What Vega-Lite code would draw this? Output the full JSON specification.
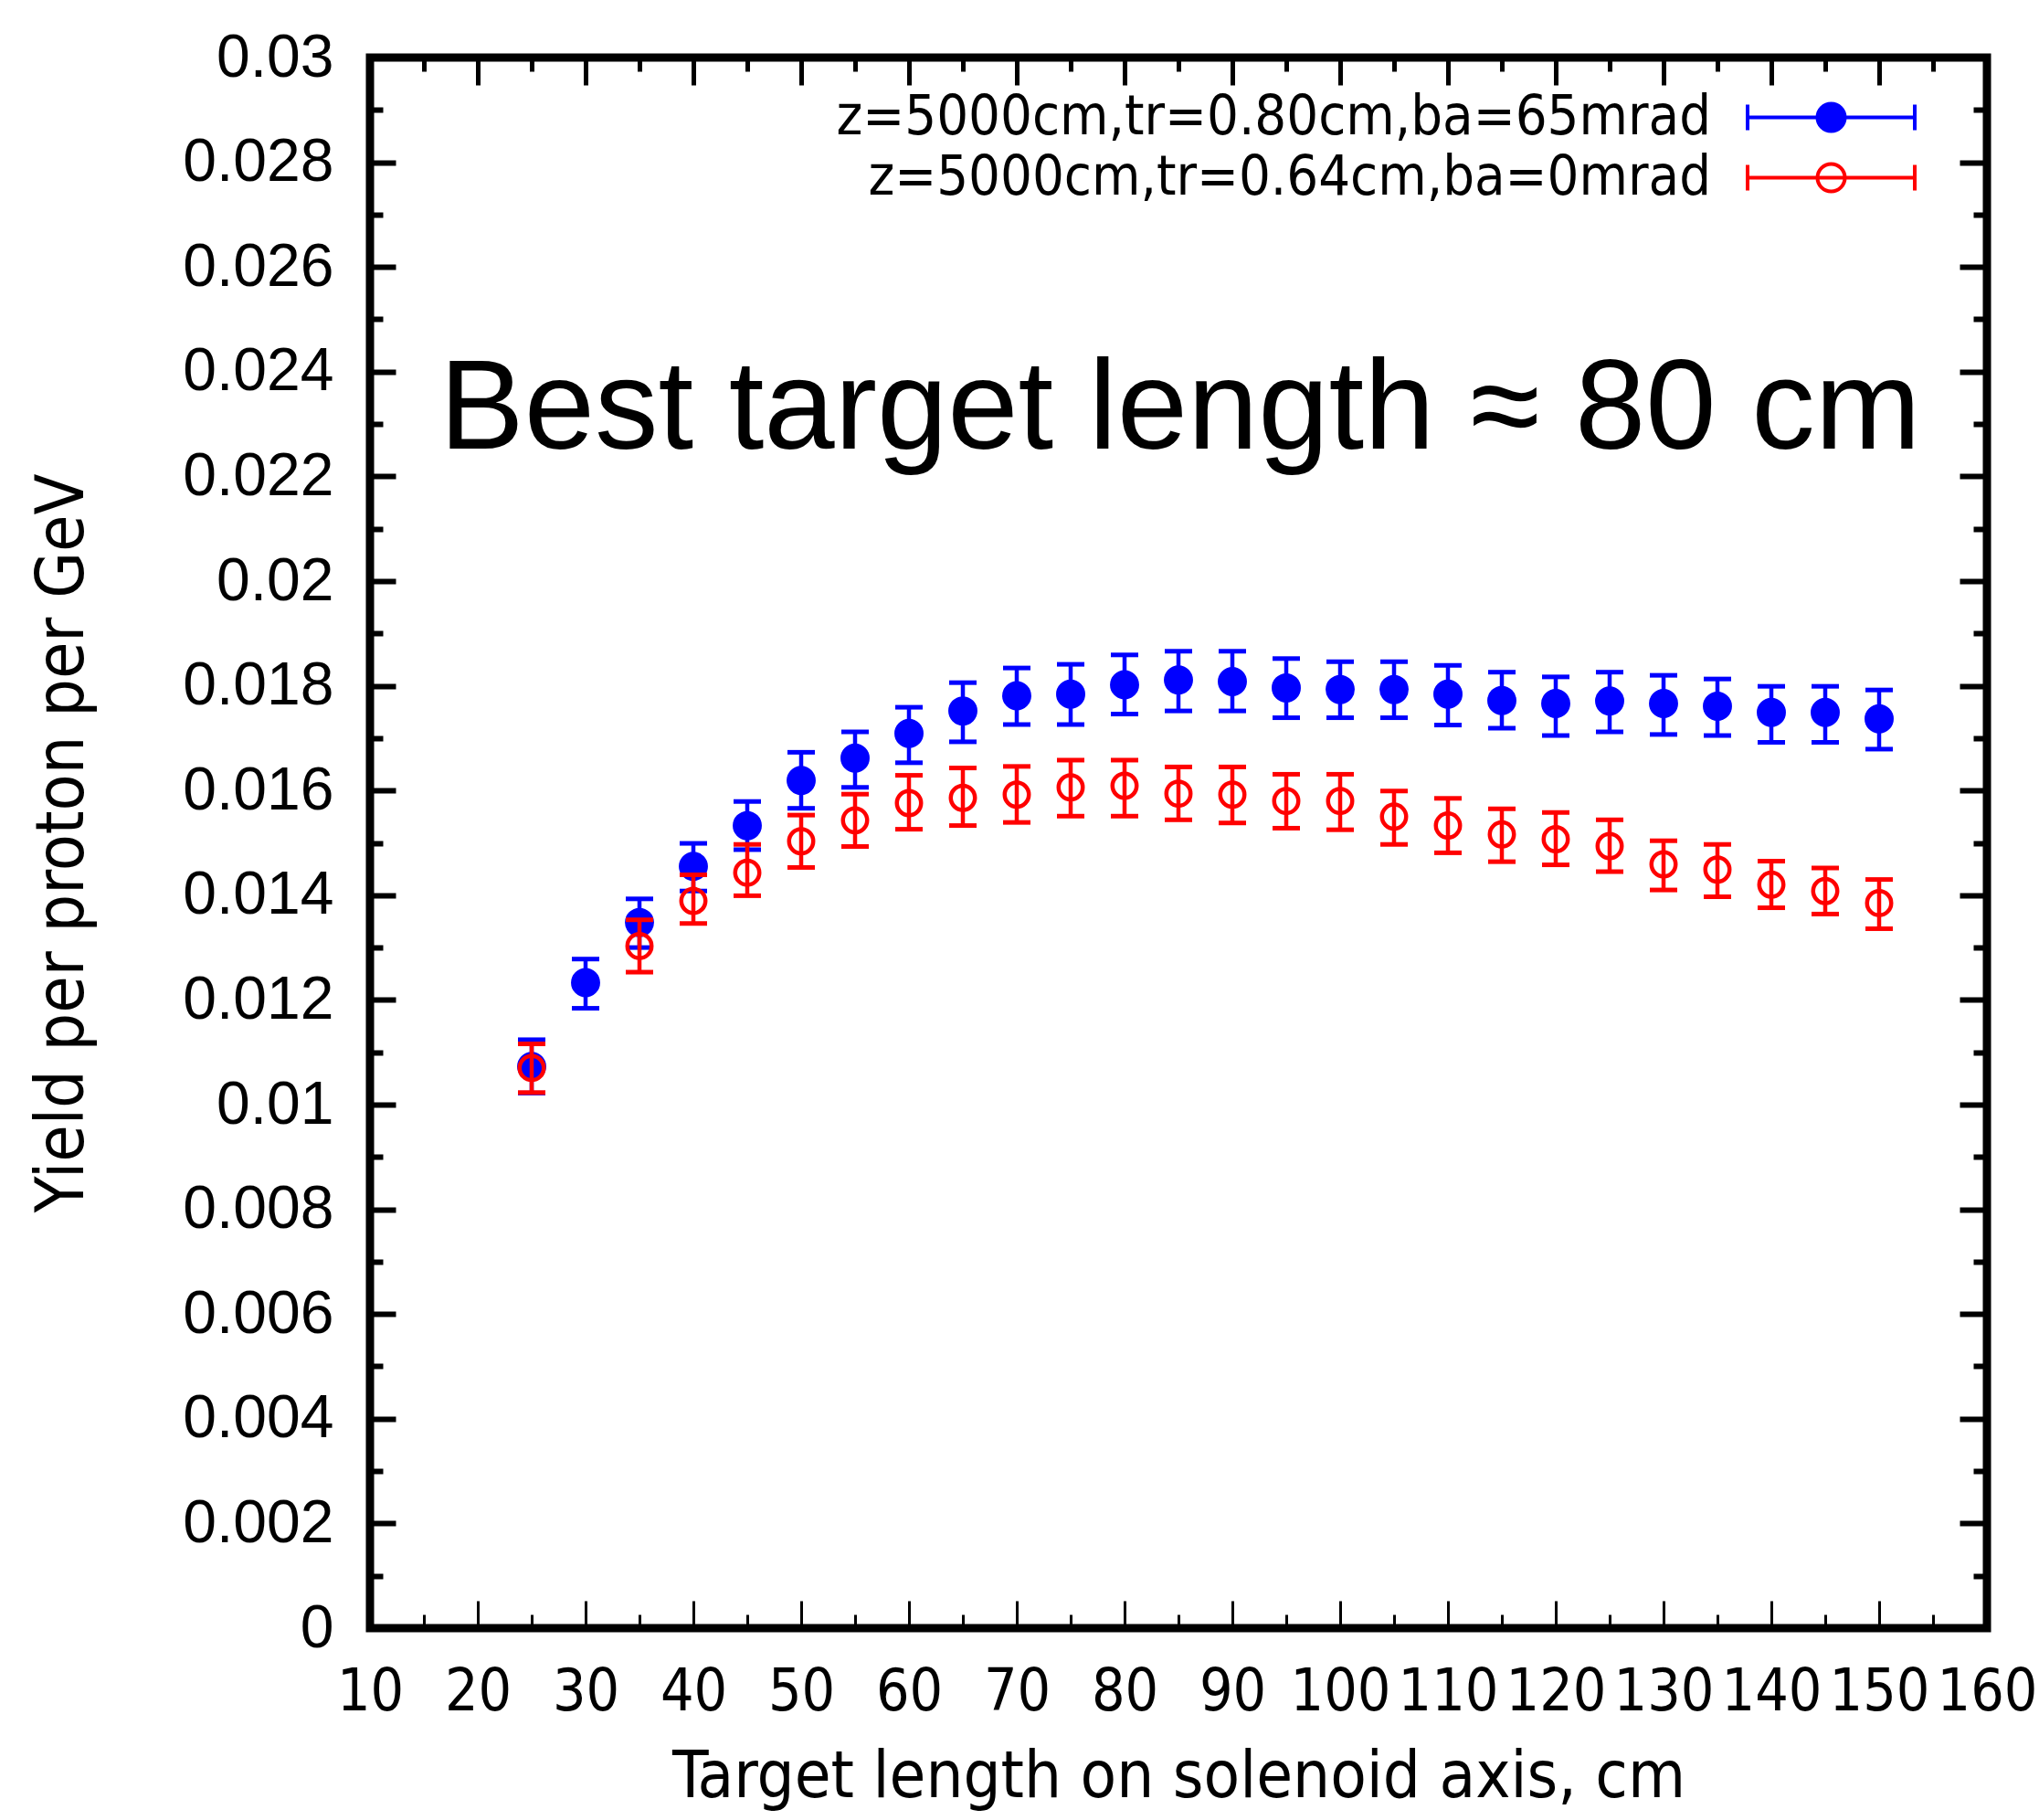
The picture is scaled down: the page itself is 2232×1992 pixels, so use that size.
{
  "$schema": "https://vega.github.io/schema/vega-lite/v6.json",
  "width": 1770,
  "height": 1719,
  "autosize": {"type": "none"},
  "padding": {"left": 405, "top": 63, "right": 57, "bottom": 210},
  "background": "white",
  "config": {
    "view": {"stroke": "black", "strokeWidth": 9},
    "axis": {"domain": false, "grid": false, "tickColor": "black", "labelColor": "black", "titleColor": "black"}
  },
  "datasets": {
    "pts": [
      {"series": "z=5000cm,tr=0.80cm,ba=65mrad", "x": 25, "y": 0.01073, "lo": 0.01022, "hi": 0.01124},
      {"series": "z=5000cm,tr=0.80cm,ba=65mrad", "x": 30, "y": 0.01233, "lo": 0.01184, "hi": 0.01278},
      {"series": "z=5000cm,tr=0.80cm,ba=65mrad", "x": 35, "y": 0.01348, "lo": 0.01300, "hi": 0.01393},
      {"series": "z=5000cm,tr=0.80cm,ba=65mrad", "x": 40, "y": 0.01455, "lo": 0.01408, "hi": 0.01499},
      {"series": "z=5000cm,tr=0.80cm,ba=65mrad", "x": 45, "y": 0.01533, "lo": 0.01487, "hi": 0.01579},
      {"series": "z=5000cm,tr=0.80cm,ba=65mrad", "x": 50, "y": 0.01619, "lo": 0.01566, "hi": 0.01673},
      {"series": "z=5000cm,tr=0.80cm,ba=65mrad", "x": 55, "y": 0.01662, "lo": 0.01606, "hi": 0.01712},
      {"series": "z=5000cm,tr=0.80cm,ba=65mrad", "x": 60, "y": 0.01709, "lo": 0.01653, "hi": 0.01759},
      {"series": "z=5000cm,tr=0.80cm,ba=65mrad", "x": 65, "y": 0.01752, "lo": 0.01693, "hi": 0.01806},
      {"series": "z=5000cm,tr=0.80cm,ba=65mrad", "x": 70, "y": 0.01781, "lo": 0.01726, "hi": 0.01834},
      {"series": "z=5000cm,tr=0.80cm,ba=65mrad", "x": 75, "y": 0.01784, "lo": 0.01726, "hi": 0.01841},
      {"series": "z=5000cm,tr=0.80cm,ba=65mrad", "x": 80, "y": 0.01802, "lo": 0.01746, "hi": 0.01859},
      {"series": "z=5000cm,tr=0.80cm,ba=65mrad", "x": 85, "y": 0.01811, "lo": 0.01752, "hi": 0.01866},
      {"series": "z=5000cm,tr=0.80cm,ba=65mrad", "x": 90, "y": 0.01808, "lo": 0.01752, "hi": 0.01866},
      {"series": "z=5000cm,tr=0.80cm,ba=65mrad", "x": 95, "y": 0.01796, "lo": 0.01739, "hi": 0.01852},
      {"series": "z=5000cm,tr=0.80cm,ba=65mrad", "x": 100, "y": 0.01793, "lo": 0.01739, "hi": 0.01846},
      {"series": "z=5000cm,tr=0.80cm,ba=65mrad", "x": 105, "y": 0.01793, "lo": 0.01739, "hi": 0.01846},
      {"series": "z=5000cm,tr=0.80cm,ba=65mrad", "x": 110, "y": 0.01784, "lo": 0.01725, "hi": 0.01839},
      {"series": "z=5000cm,tr=0.80cm,ba=65mrad", "x": 115, "y": 0.01772, "lo": 0.01719, "hi": 0.01826},
      {"series": "z=5000cm,tr=0.80cm,ba=65mrad", "x": 120, "y": 0.01766, "lo": 0.01705, "hi": 0.01817},
      {"series": "z=5000cm,tr=0.80cm,ba=65mrad", "x": 125, "y": 0.01771, "lo": 0.01712, "hi": 0.01826},
      {"series": "z=5000cm,tr=0.80cm,ba=65mrad", "x": 130, "y": 0.01766, "lo": 0.01707, "hi": 0.01820},
      {"series": "z=5000cm,tr=0.80cm,ba=65mrad", "x": 135, "y": 0.01761, "lo": 0.01705, "hi": 0.01813},
      {"series": "z=5000cm,tr=0.80cm,ba=65mrad", "x": 140, "y": 0.01749, "lo": 0.01692, "hi": 0.01799},
      {"series": "z=5000cm,tr=0.80cm,ba=65mrad", "x": 145, "y": 0.01749, "lo": 0.01692, "hi": 0.01799},
      {"series": "z=5000cm,tr=0.80cm,ba=65mrad", "x": 150, "y": 0.01737, "lo": 0.01679, "hi": 0.01792},
      {"series": "z=5000cm,tr=0.64cm,ba=0mrad", "x": 25, "y": 0.01070, "lo": 0.01023, "hi": 0.01116},
      {"series": "z=5000cm,tr=0.64cm,ba=0mrad", "x": 35, "y": 0.01303, "lo": 0.01253, "hi": 0.01353},
      {"series": "z=5000cm,tr=0.64cm,ba=0mrad", "x": 40, "y": 0.01389, "lo": 0.01346, "hi": 0.01439},
      {"series": "z=5000cm,tr=0.64cm,ba=0mrad", "x": 45, "y": 0.01443, "lo": 0.01399, "hi": 0.01497},
      {"series": "z=5000cm,tr=0.64cm,ba=0mrad", "x": 50, "y": 0.01503, "lo": 0.01453, "hi": 0.01553},
      {"series": "z=5000cm,tr=0.64cm,ba=0mrad", "x": 55, "y": 0.01543, "lo": 0.01493, "hi": 0.01593},
      {"series": "z=5000cm,tr=0.64cm,ba=0mrad", "x": 60, "y": 0.01576, "lo": 0.01526, "hi": 0.01629},
      {"series": "z=5000cm,tr=0.64cm,ba=0mrad", "x": 65, "y": 0.01586, "lo": 0.01533, "hi": 0.01643},
      {"series": "z=5000cm,tr=0.64cm,ba=0mrad", "x": 70, "y": 0.01592, "lo": 0.01539, "hi": 0.01646},
      {"series": "z=5000cm,tr=0.64cm,ba=0mrad", "x": 75, "y": 0.01606, "lo": 0.01551, "hi": 0.01658},
      {"series": "z=5000cm,tr=0.64cm,ba=0mrad", "x": 80, "y": 0.01609, "lo": 0.01551, "hi": 0.01658},
      {"series": "z=5000cm,tr=0.64cm,ba=0mrad", "x": 85, "y": 0.01594, "lo": 0.01544, "hi": 0.01645},
      {"series": "z=5000cm,tr=0.64cm,ba=0mrad", "x": 90, "y": 0.01592, "lo": 0.01538, "hi": 0.01645},
      {"series": "z=5000cm,tr=0.64cm,ba=0mrad", "x": 95, "y": 0.01580, "lo": 0.01528, "hi": 0.01631},
      {"series": "z=5000cm,tr=0.64cm,ba=0mrad", "x": 100, "y": 0.01580, "lo": 0.01525, "hi": 0.01631},
      {"series": "z=5000cm,tr=0.64cm,ba=0mrad", "x": 105, "y": 0.01550, "lo": 0.01497, "hi": 0.01599},
      {"series": "z=5000cm,tr=0.64cm,ba=0mrad", "x": 110, "y": 0.01533, "lo": 0.01481, "hi": 0.01585},
      {"series": "z=5000cm,tr=0.64cm,ba=0mrad", "x": 115, "y": 0.01516, "lo": 0.01464, "hi": 0.01565},
      {"series": "z=5000cm,tr=0.64cm,ba=0mrad", "x": 120, "y": 0.01507, "lo": 0.01458, "hi": 0.01558},
      {"series": "z=5000cm,tr=0.64cm,ba=0mrad", "x": 125, "y": 0.01494, "lo": 0.01445, "hi": 0.01544},
      {"series": "z=5000cm,tr=0.64cm,ba=0mrad", "x": 130, "y": 0.01459, "lo": 0.01410, "hi": 0.01504},
      {"series": "z=5000cm,tr=0.64cm,ba=0mrad", "x": 135, "y": 0.01449, "lo": 0.01397, "hi": 0.01497},
      {"series": "z=5000cm,tr=0.64cm,ba=0mrad", "x": 140, "y": 0.01420, "lo": 0.01376, "hi": 0.01465},
      {"series": "z=5000cm,tr=0.64cm,ba=0mrad", "x": 145, "y": 0.01408, "lo": 0.01364, "hi": 0.01452},
      {"series": "z=5000cm,tr=0.64cm,ba=0mrad", "x": 150, "y": 0.01385, "lo": 0.01336, "hi": 0.01430}
    ]
  },
  "resolve": {"axis": {"x": "independent", "y": "independent"}},
  "layer": [
    {
      "data": {"name": "pts"},
      "transform": [{"filter": {"field": "series", "equal": "z=5000cm,tr=0.80cm,ba=65mrad"}}],
      "mark": {"type": "rule", "color": "#0000ff", "strokeWidth": 4.5},
      "encoding": {
        "x": {"field": "x", "type": "quantitative", "scale": {"domain": [10, 160], "nice": false, "zero": false},
          "axis": {"orient": "bottom", "values": [10, 20, 30, 40, 50, 60, 70, 80, 90, 100, 110, 120, 130, 140, 150, 160],
            "offset": -30, "tickSize": 30, "tickWidth": 3, "labelFlush": false, "labelOverlap": false,
            "labelFont": "DejaVu Sans Condensed", "labelFontSize": 64, "labelPadding": 38,
            "title": "Target length on solenoid axis, cm", "titleFont": "DejaVu Sans Condensed", "titleFontSize": 72, "titleFontWeight": "normal", "titlePadding": 25}},
        "y": {"field": "lo", "type": "quantitative", "scale": {"domain": [0, 0.03], "nice": false, "zero": false},
          "axis": {"orient": "left", "values": [0, 0.002, 0.004, 0.006, 0.008, 0.01, 0.012, 0.014, 0.016, 0.018, 0.02, 0.022, 0.024, 0.026, 0.028, 0.03],
            "format": "~g", "offset": -28, "tickSize": 28, "tickWidth": 6, "labelOverlap": false, "labelFlush": false,
            "labelFont": "Liberation Sans", "labelFontSize": 66, "labelPadding": 40,
            "title": "Yield per proton per GeV", "titleFont": "DejaVu Sans Condensed", "titleFontSize": 73, "titleFontWeight": "normal", "titlePadding": 128}},
        "y2": {"field": "hi"}
      }
    },
    {
      "data": {"name": "pts"},
      "transform": [{"filter": {"field": "series", "equal": "z=5000cm,tr=0.80cm,ba=65mrad"}}],
      "mark": {"type": "tick", "orient": "horizontal", "size": 30, "thickness": 5, "color": "#0000ff", "opacity": 1},
      "encoding": {
        "x": {"field": "x", "type": "quantitative", "scale": {"domain": [10, 160], "nice": false, "zero": false},
          "axis": {"orient": "bottom", "values": [15, 25, 35, 45, 55, 65, 75, 85, 95, 105, 115, 125, 135, 145, 155],
            "offset": -15, "tickSize": 15, "tickWidth": 3, "labels": false, "title": null}},
        "y": {"field": "hi", "type": "quantitative", "scale": {"domain": [0, 0.03], "nice": false, "zero": false},
          "axis": {"orient": "left", "values": [0.001, 0.003, 0.005, 0.007, 0.009, 0.011, 0.013, 0.015, 0.017, 0.019, 0.021, 0.023, 0.025, 0.027, 0.029],
            "offset": -14, "tickSize": 14, "tickWidth": 6, "labels": false, "title": null}}
      }
    },
    {
      "data": {"name": "pts"},
      "transform": [{"filter": {"field": "series", "equal": "z=5000cm,tr=0.80cm,ba=65mrad"}}],
      "mark": {"type": "tick", "orient": "horizontal", "size": 30, "thickness": 5, "color": "#0000ff", "opacity": 1},
      "encoding": {
        "x": {"field": "x", "type": "quantitative", "scale": {"domain": [10, 160], "nice": false, "zero": false},
          "axis": {"orient": "top", "values": [10, 20, 30, 40, 50, 60, 70, 80, 90, 100, 110, 120, 130, 140, 150, 160],
            "offset": -30, "tickSize": 30, "tickWidth": 5, "labels": false, "title": null}},
        "y": {"field": "lo", "type": "quantitative", "scale": {"domain": [0, 0.03], "nice": false, "zero": false},
          "axis": {"orient": "right", "values": [0, 0.002, 0.004, 0.006, 0.008, 0.01, 0.012, 0.014, 0.016, 0.018, 0.02, 0.022, 0.024, 0.026, 0.028, 0.03],
            "offset": -30, "tickSize": 30, "tickWidth": 6, "labels": false, "title": null}}
      }
    },
    {
      "data": {"name": "pts"},
      "transform": [{"filter": {"field": "series", "equal": "z=5000cm,tr=0.80cm,ba=65mrad"}}],
      "mark": {"type": "point", "shape": "circle", "filled": true, "size": 780, "opacity": 1, "strokeWidth": 4},
      "encoding": {
        "x": {"field": "x", "type": "quantitative", "scale": {"domain": [10, 160], "nice": false, "zero": false},
          "axis": {"orient": "top", "values": [15, 25, 35, 45, 55, 65, 75, 85, 95, 105, 115, 125, 135, 145, 155],
            "offset": -15, "tickSize": 15, "tickWidth": 5, "labels": false, "title": null}},
        "y": {"field": "y", "type": "quantitative", "scale": {"domain": [0, 0.03], "nice": false, "zero": false},
          "axis": {"orient": "right", "values": [0.001, 0.003, 0.005, 0.007, 0.009, 0.011, 0.013, 0.015, 0.017, 0.019, 0.021, 0.023, 0.025, 0.027, 0.029],
            "offset": -15, "tickSize": 15, "tickWidth": 6, "labels": false, "title": null}},
        "stroke": {"field": "series", "type": "nominal",
          "scale": {"domain": ["z=5000cm,tr=0.80cm,ba=65mrad", "z=5000cm,tr=0.64cm,ba=0mrad"], "range": ["#0000ff", "#ff0000"]},
          "legend": {"title": null, "orient": "none", "legendX": 1569, "legendY": 35, "padding": 0,
            "labelFont": "DejaVu Sans Condensed", "labelFontSize": 61, "labelColor": "black", "labelAlign": "right", "labelOffset": -162, "labelLimit": 2000,
            "symbolType": "M-9.15,0H9.15M-9.15,-1.4V1.4M9.15,-1.4V1.4M1.5,0A1.5,1.5,0,1,1,-1.5,0A1.5,1.5,0,1,1,1.5,0Z",
            "symbolSize": 400, "symbolStrokeWidth": 4, "symbolOpacity": 1, "rowPadding": 4}},
        "fill": {"field": "series", "type": "nominal",
          "scale": {"domain": ["z=5000cm,tr=0.80cm,ba=65mrad", "z=5000cm,tr=0.64cm,ba=0mrad"], "range": ["#0000ff", "transparent"]},
          "legend": {"title": null, "orient": "none", "legendX": 1569, "legendY": 35, "padding": 0,
            "labelFont": "DejaVu Sans Condensed", "labelFontSize": 61, "labelColor": "black", "labelAlign": "right", "labelOffset": -162, "labelLimit": 2000,
            "symbolType": "M-9.15,0H9.15M-9.15,-1.4V1.4M9.15,-1.4V1.4M1.5,0A1.5,1.5,0,1,1,-1.5,0A1.5,1.5,0,1,1,1.5,0Z",
            "symbolSize": 400, "symbolStrokeWidth": 4, "symbolOpacity": 1, "rowPadding": 4}}
      }
    },
    {
      "data": {"name": "pts"},
      "transform": [{"filter": {"field": "series", "equal": "z=5000cm,tr=0.64cm,ba=0mrad"}}],
      "mark": {"type": "rule", "color": "#ff0000", "strokeWidth": 4.5},
      "encoding": {
        "x": {"field": "x", "type": "quantitative", "scale": {"domain": [10, 160], "nice": false, "zero": false}, "axis": null},
        "y": {"field": "lo", "type": "quantitative", "scale": {"domain": [0, 0.03], "nice": false, "zero": false}, "axis": null},
        "y2": {"field": "hi"}
      }
    },
    {
      "data": {"name": "pts"},
      "transform": [{"filter": {"field": "series", "equal": "z=5000cm,tr=0.64cm,ba=0mrad"}}],
      "mark": {"type": "tick", "orient": "horizontal", "size": 30, "thickness": 5, "color": "#ff0000", "opacity": 1},
      "encoding": {
        "x": {"field": "x", "type": "quantitative", "scale": {"domain": [10, 160], "nice": false, "zero": false}, "axis": null},
        "y": {"field": "hi", "type": "quantitative", "scale": {"domain": [0, 0.03], "nice": false, "zero": false}, "axis": null}
      }
    },
    {
      "data": {"name": "pts"},
      "transform": [{"filter": {"field": "series", "equal": "z=5000cm,tr=0.64cm,ba=0mrad"}}],
      "mark": {"type": "tick", "orient": "horizontal", "size": 30, "thickness": 5, "color": "#ff0000", "opacity": 1},
      "encoding": {
        "x": {"field": "x", "type": "quantitative", "scale": {"domain": [10, 160], "nice": false, "zero": false}, "axis": null},
        "y": {"field": "lo", "type": "quantitative", "scale": {"domain": [0, 0.03], "nice": false, "zero": false}, "axis": null}
      }
    },
    {
      "data": {"name": "pts"},
      "transform": [{"filter": {"field": "series", "equal": "z=5000cm,tr=0.64cm,ba=0mrad"}}],
      "mark": {"type": "point", "shape": "circle", "filled": false, "strokeWidth": 4.5, "size": 700, "opacity": 1},
      "encoding": {
        "x": {"field": "x", "type": "quantitative", "scale": {"domain": [10, 160], "nice": false, "zero": false}, "axis": null},
        "y": {"field": "y", "type": "quantitative", "scale": {"domain": [0, 0.03], "nice": false, "zero": false}, "axis": null},
        "stroke": {"field": "series", "type": "nominal",
          "scale": {"domain": ["z=5000cm,tr=0.80cm,ba=65mrad", "z=5000cm,tr=0.64cm,ba=0mrad"], "range": ["#0000ff", "#ff0000"]}},
        "fill": {"field": "series", "type": "nominal",
          "scale": {"domain": ["z=5000cm,tr=0.80cm,ba=65mrad", "z=5000cm,tr=0.64cm,ba=0mrad"], "range": ["#0000ff", "transparent"]}}
      }
    },
    {
      "data": {"values": [{"note": "Best target length ≈ 80 cm", "x": 16.44, "y": 0.02253}]},
      "mark": {"type": "text", "font": "Liberation Sans", "fontSize": 139, "align": "left", "baseline": "alphabetic", "color": "black"},
      "encoding": {
        "text": {"field": "note", "type": "nominal"},
        "x": {"field": "x", "type": "quantitative", "scale": {"domain": [10, 160], "nice": false, "zero": false}, "axis": null},
        "y": {"field": "y", "type": "quantitative", "scale": {"domain": [0, 0.03], "nice": false, "zero": false}, "axis": null}
      }
    }
  ]
}
